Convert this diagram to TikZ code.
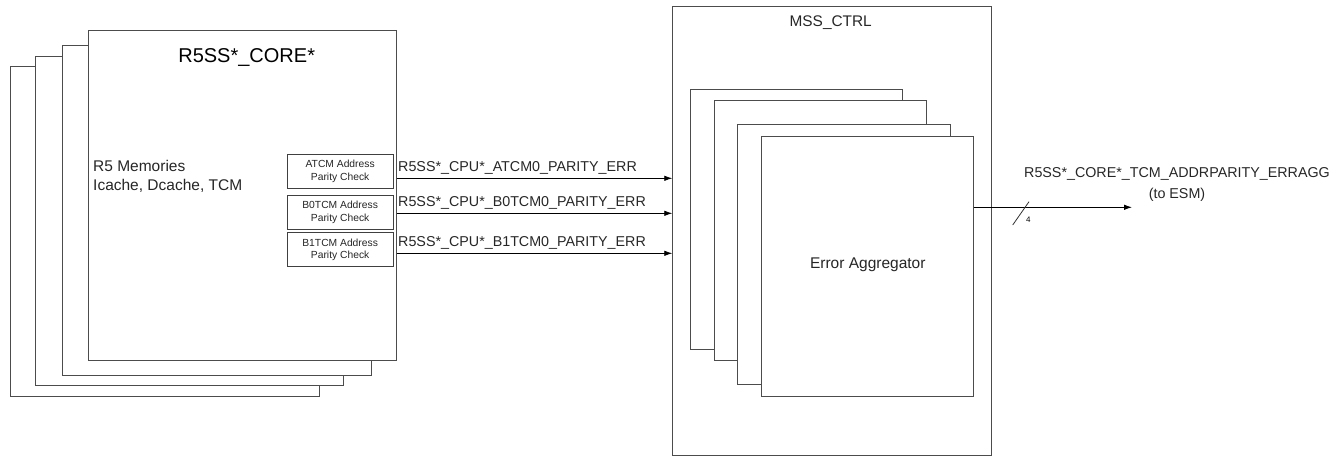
\documentclass[tikz,border=0pt]{standalone}
\usepackage{fontspec}
\setmainfont{Liberation Sans}
\usetikzlibrary{arrows.meta,calc}
\tikzset{
  box/.style={draw=black!70, line width=0.9pt, fill=white, rectangle, inner sep=0pt, outer sep=0pt, anchor=north west},
  chk/.style={draw=black!75, line width=0.9pt, fill=white, rectangle, inner sep=0pt, outer sep=0pt, anchor=north west, minimum width=106.3pt, minimum height=34pt, align=center, font=\fontsize{10.3}{12.5}\selectfont, text=black!85},
  arr/.style={draw=black, line width=0.8pt, -{Latex[length=8pt,width=5.5pt]}},
  sig/.style={anchor=base west, inner sep=0pt, font=\fontsize{14.3}{17}\selectfont, text=black!85},
}
\begin{document}
\begin{tikzpicture}[x=1pt,y=-1pt]
\useasboundingbox (0,0) rectangle (1342,456);
% core stack
\node[box, minimum width=309pt, minimum height=330pt] (core4) at (10,66.7) {};
\node[box, minimum width=308pt, minimum height=329pt] (core3) at (35,56.7) {};
\node[box, minimum width=309pt, minimum height=329.3pt] (core2) at (62,45.7) {};
\node[box, minimum width=308.7pt, minimum height=329.7pt] (core1) at (88,30.3) {};
\node[anchor=base, inner sep=0pt, font=\fontsize{20}{24}\selectfont, text=black] (coretitle) at (246.7,62) {R5SS*\_CORE*};
\node[anchor=base west, inner sep=0pt, align=left, font=\fontsize{15.5}{18.5}\selectfont, text=black!85] (mem) at (93,190.2) {R5 Memories\\Icache, Dcache, TCM};
\node[chk] (atcm) at (287,154.3) {ATCM Address\\Parity Check};
\node[chk, minimum height=33.6pt] (b0tcm) at (287,195.7) {B0TCM Address\\Parity Check};
\node[chk] (b1tcm) at (287,232.7) {B1TCM Address\\Parity Check};
% MSS_CTRL
\node[box, minimum width=318.7pt, minimum height=448.3pt] (mss) at (672.3,6.7) {};
\node[anchor=base, inner sep=0pt, font=\fontsize{15.4}{18}\selectfont, text=black!85] (msstitle) at (830.7,26) {MSS\_CTRL};
\node[box, minimum width=212pt, minimum height=259.7pt] (agg4) at (690.7,89.3) {};
\node[box, minimum width=212pt, minimum height=260pt] (agg3) at (714.3,100.7) {};
\node[box, minimum width=212.6pt, minimum height=259.6pt] (agg2) at (737.7,124.7) {};
\node[box, minimum width=212.4pt, minimum height=259.7pt] (agg1) at (761.3,136.3) {};
\node[inner sep=0pt, font=\fontsize{15.5}{18}\selectfont, text=black!85] (agglabel) at (867.8,265) {Error Aggregator};
% signals
\coordinate (y1) at (0,178.3);
\coordinate (y2) at (0,213.3);
\coordinate (y3) at (0,253.3);
\coordinate (y4) at (0,207.3);
\draw[arr] (core1.east |- y1) -- (mss.west |- y1);
\draw[arr] (core1.east |- y2) -- (mss.west |- y2);
\draw[arr] (core1.east |- y3) -- (mss.west |- y3);
\node[sig] (s1) at (398,171.7) {R5SS*\_CPU*\_ATCM0\_PARITY\_ERR};
\node[sig] (s2) at (398,206.7) {R5SS*\_CPU*\_B0TCM0\_PARITY\_ERR};
\node[sig] (s3) at (398,246) {R5SS*\_CPU*\_B1TCM0\_PARITY\_ERR};
% output
\coordinate (esm) at (1132,207.3);
\draw[arr] (agg1.east |- y4) -- (esm);
\draw[line width=0.8pt, black!80] (1012.7,225) -- (1029,201.7);
\node[anchor=base west, inner sep=0pt, font=\fontsize{8}{9}\selectfont] (bus) at (1026,222) {4};
\node[anchor=base, inner sep=0pt, align=center, font=\fontsize{14.3}{20.6}\selectfont, text=black!85] (outlabel) at (1177,198.3) {R5SS*\_CORE*\_TCM\_ADDRPARITY\_ERRAGG\\(to ESM)};
\end{tikzpicture}
\end{document}
